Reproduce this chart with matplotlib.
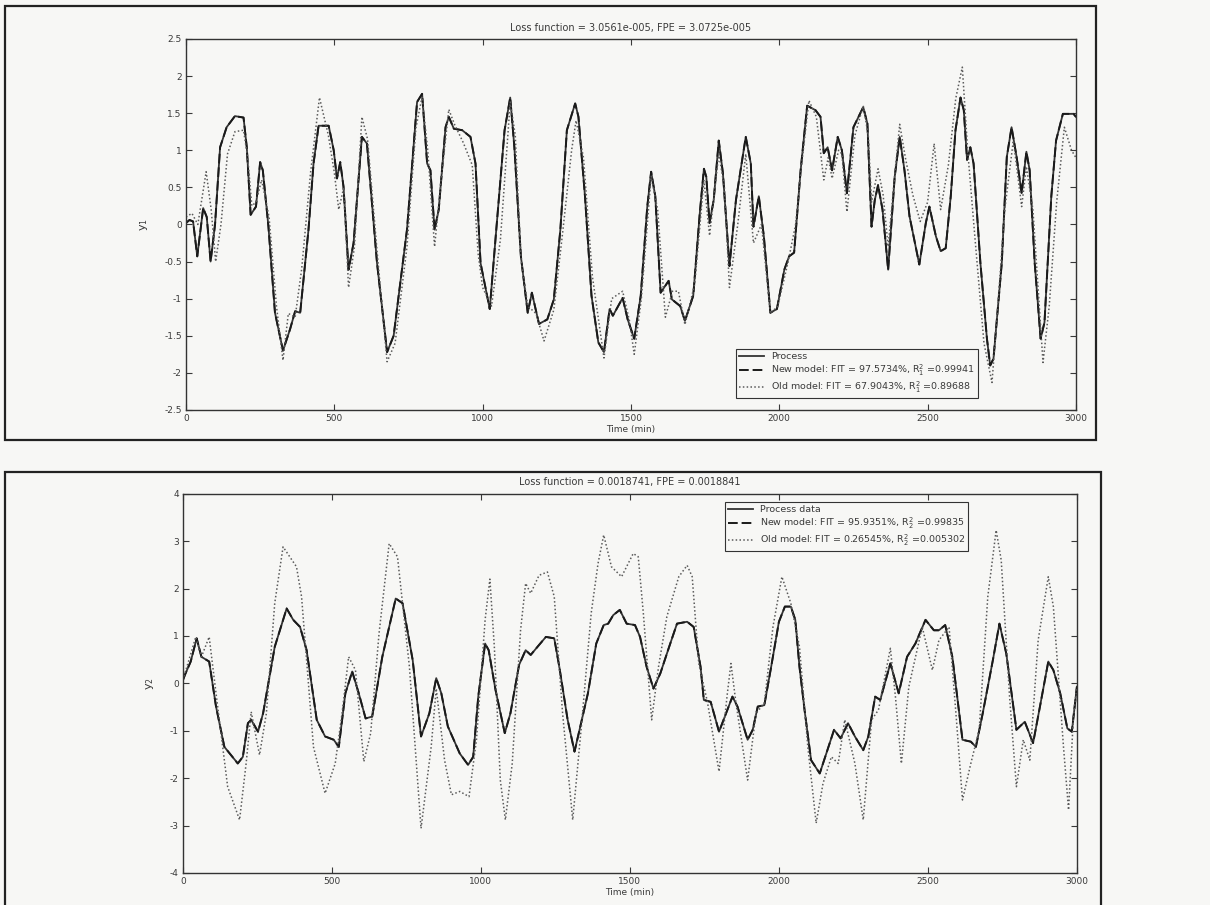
import numpy as np
import matplotlib
matplotlib.use("Agg")
import matplotlib.pyplot as plt
from matplotlib.patches import Rectangle

# ---- top panel (y1) ----
t1_proc = [0, 12, 24, 38, 58, 70, 83, 98, 115, 137, 165, 194, 205, 218, 236, 250, 259, 278,
           300, 327, 351, 368, 385, 413, 430, 447, 481, 498, 509, 520, 531, 548, 565, 593,
           610, 644, 678, 700, 745, 779, 796, 813, 824, 838, 852, 875, 886, 903, 931, 959,
           976, 993, 1013, 1024, 1046, 1074, 1093, 1107, 1129, 1152, 1166, 1190, 1218, 1240,
           1262, 1284, 1312, 1323, 1345, 1367, 1390, 1409, 1428, 1439, 1472, 1489, 1511,
           1533, 1555, 1568, 1582, 1600, 1627, 1638, 1666, 1682, 1710, 1732, 1746, 1754,
           1765, 1779, 1796, 1810, 1832, 1854, 1887, 1904, 1913, 1931, 1948, 1970, 1992,
           2017, 2033, 2050, 2072, 2094, 2122, 2139, 2150, 2163, 2178, 2197, 2211, 2228,
           2250, 2283, 2297, 2311, 2322, 2333, 2348, 2367, 2389, 2406, 2422, 2439, 2472,
           2494, 2506, 2528, 2544, 2561, 2578, 2594, 2611, 2622, 2633, 2644, 2655, 2678,
           2700, 2711, 2722, 2750, 2767, 2783, 2800, 2817, 2833, 2844, 2861, 2881, 2894,
           2917, 2933, 2956, 2992, 3000]
y1_proc = [0.02, 0.06, 0.04, -0.43, 0.22, 0.1, -0.5, 0.0, 1.04, 1.31, 1.46, 1.44, 1.04, 0.13,
           0.24, 0.84, 0.73, -0.03, -1.19, -1.70, -1.41, -1.17, -1.19, -0.07, 0.82, 1.33,
           1.33, 1.0, 0.62, 0.84, 0.51, -0.61, -0.25, 1.18, 1.09, -0.52, -1.72, -1.5, -0.07,
           1.65, 1.76, 0.82, 0.73, -0.07, 0.2, 1.31, 1.45, 1.29, 1.27, 1.18, 0.82, -0.52,
           -0.92, -1.14, -0.07, 1.27, 1.71, 1.04, -0.43, -1.19, -0.92, -1.34, -1.28, -1.01,
           -0.07, 1.27, 1.63, 1.45, 0.38, -0.96, -1.59, -1.72, -1.14, -1.23, -0.99, -1.28,
           -1.54, -0.96, 0.24, 0.71, 0.38, -0.92, -0.76, -1.01, -1.1, -1.3, -0.96, 0.15,
           0.75, 0.64, 0.02, 0.33, 1.13, 0.69, -0.56, 0.33, 1.18, 0.82, -0.03, 0.38, -0.16,
           -1.19, -1.14, -0.61, -0.43, -0.38, 0.73, 1.60, 1.54, 1.45, 0.96, 1.04, 0.73, 1.18,
           1.0, 0.42, 1.31, 1.58, 1.36, -0.03, 0.33, 0.53, 0.2, -0.61, 0.64, 1.18, 0.73, 0.11,
           -0.54, 0.02, 0.24, -0.16, -0.36, -0.32, 0.38, 1.27, 1.71, 1.54, 0.87, 1.04, 0.82,
           -0.52, -1.54, -1.90, -1.81, -0.52, 0.91, 1.31, 0.91, 0.42, 0.98, 0.73, -0.52,
           -1.54, -1.32, 0.38, 1.13, 1.49, 1.49, 1.45]
# new model lies on top of the process curve in the picture
t1_new = t1_proc
y1_new = y1_proc

t1_old = [0, 20, 40, 68, 85, 100, 118, 140, 165, 194, 208, 222, 236, 255, 280, 305, 327, 345,
          368, 390, 420, 450, 480, 500, 515, 532, 548, 568, 593, 612, 645, 678, 705, 745,
          775, 796, 815, 838, 860, 886, 905, 935, 965, 985, 1000, 1030, 1060, 1093, 1110,
          1129, 1152, 1180, 1207, 1240, 1270, 1300, 1315, 1340, 1370, 1409, 1435, 1472,
          1495, 1511, 1535, 1568, 1590, 1616, 1640, 1660, 1682, 1715, 1746, 1765, 1796,
          1815, 1832, 1860, 1887, 1913, 1940, 1970, 1995, 2030, 2055, 2075, 2100, 2125,
          2150, 2165, 2178, 2200, 2211, 2228, 2255, 2283, 2300, 2311, 2333, 2350, 2367,
          2390, 2406, 2425, 2450, 2475, 2500, 2522, 2544, 2570, 2595, 2617, 2635, 2660,
          2690, 2717, 2735, 2760, 2789, 2817, 2833, 2855, 2889, 2910, 2935, 2961, 2985, 3000]
y1_old = [0.1, 0.15, 0.0, 0.71, 0.2, -0.5, 0.0, 0.95, 1.25, 1.27, 0.9, 0.25, 0.3, 0.6, 0.1,
          -1.1, -1.83, -1.2, -1.25, -0.6, 0.7, 1.71, 1.2, 0.7, 0.2, 0.5, -0.85, -0.3, 1.45,
          1.15, -0.4, -1.85, -1.6, -0.3, 1.3, 1.72, 1.0, -0.3, 0.6, 1.55, 1.35, 1.1, 0.8,
          -0.4, -0.85, -1.1, -0.2, 1.65, 1.2, -0.45, -1.1, -1.2, -1.57, -1.15, -0.1, 1.0,
          1.4, 0.9, -0.7, -1.8, -1.0, -0.9, -1.3, -1.75, -1.0, 0.65, 0.2, -1.25, -0.9, -0.9,
          -1.35, -0.8, 0.6, -0.15, 0.95, 0.5, -0.85, 0.0, 0.95, -0.25, 0.0, -1.2, -1.1,
          -0.5, 0.0, 0.8, 1.67, 1.45, 0.6, 0.9, 0.62, 1.0, 0.95, 0.17, 1.2, 1.6, 1.2, 0.3,
          0.75, 0.4, -0.3, 0.7, 1.35, 0.9, 0.4, 0.04, 0.3, 1.09, 0.2, 0.8, 1.7, 2.12, 1.0,
          -0.2, -1.6, -2.13, -1.2, 0.2, 1.13, 0.24, 0.78, 0.2, -1.86, -1.1, 0.3, 1.31, 1.0,
          0.9]

# ---- bottom panel (y2) ----
t2_proc = [0, 8, 26, 46, 62, 88, 111, 139, 184, 201, 218, 229, 252, 269, 308, 348, 370, 393,
           415, 449, 477, 506, 523, 545, 568, 590, 613, 635, 669, 714, 737, 771, 799, 827,
           850, 867, 889, 929, 957, 974, 991, 1014, 1026, 1049, 1080, 1099, 1128, 1150,
           1167, 1195, 1218, 1246, 1263, 1291, 1314, 1336, 1359, 1387, 1412, 1427, 1444,
           1466, 1489, 1517, 1534, 1556, 1579, 1602, 1630, 1658, 1692, 1714, 1737, 1748,
           1771, 1799, 1827, 1844, 1861, 1895, 1912, 1929, 1951, 1974, 2000, 2020, 2040,
           2055, 2069, 2086, 2108, 2137, 2159, 2185, 2207, 2232, 2255, 2283, 2300, 2323,
           2340, 2374, 2402, 2430, 2458, 2492, 2520, 2537, 2558, 2582, 2616, 2644, 2661,
           2684, 2718, 2740, 2763, 2797, 2825, 2853, 2876, 2904, 2921, 2944, 2968, 2983, 3000]
y2_proc = [0.07, 0.2, 0.46, 0.95, 0.56, 0.46, -0.49, -1.34, -1.69, -1.55, -0.84, -0.77,
           -1.02, -0.63, 0.77, 1.58, 1.34, 1.19, 0.70, -0.77, -1.12, -1.19, -1.34, -0.21,
           0.25, -0.21, -0.74, -0.70, 0.56, 1.79, 1.69, 0.49, -1.12, -0.63, 0.11, -0.21,
           -0.91, -1.48, -1.72, -1.55, -0.28, 0.84, 0.7, -0.14, -1.05, -0.63, 0.39, 0.70,
           0.60, 0.81, 0.98, 0.95, 0.35, -0.77, -1.44, -0.84, -0.21, 0.84, 1.23, 1.26, 1.44,
           1.55, 1.26, 1.23, 0.98, 0.35, -0.11, 0.21, 0.74, 1.26, 1.30, 1.19, 0.35, -0.35,
           -0.39, -1.02, -0.56, -0.28, -0.49, -1.19, -0.98, -0.49, -0.46, 0.35, 1.3, 1.62,
           1.62, 1.34, 0.35, -0.56, -1.62, -1.90, -1.48, -0.98, -1.16, -0.84, -1.12, -1.41,
           -1.12, -0.28, -0.35, 0.42, -0.21, 0.56, 0.84, 1.34, 1.12, 1.12, 1.23, 0.56, -1.19,
           -1.23, -1.34, -0.63, 0.49, 1.26, 0.63, -0.98, -0.81, -1.26, -0.49, 0.46, 0.28,
           -0.21, -0.95, -1.02, -0.07]
t2_new = t2_proc
y2_new = y2_proc

t2_old = [0, 43, 62, 88, 111, 150, 190, 212, 229, 257, 280, 308, 336, 381, 398, 438, 477,
          511, 534, 556, 579, 607, 630, 658, 692, 720, 760, 799, 833, 850, 878, 901, 929,
          960, 985, 1014, 1030, 1045, 1065, 1082, 1105, 1133, 1150, 1167, 1195, 1223, 1246,
          1274, 1308, 1336, 1370, 1393, 1412, 1438, 1472, 1511, 1528, 1545, 1573, 1596,
          1624, 1664, 1692, 1709, 1731, 1760, 1799, 1827, 1839, 1856, 1895, 1923, 1951,
          1980, 2010, 2040, 2069, 2097, 2125, 2148, 2176, 2199, 2221, 2255, 2283, 2311,
          2334, 2374, 2391, 2411, 2436, 2481, 2515, 2537, 2571, 2594, 2616, 2644, 2672,
          2701, 2729, 2746, 2774, 2797, 2820, 2842, 2870, 2904, 2921, 2955, 2972, 2989, 3000]
y2_old = [0.07, 0.98, 0.56, 0.98, -0.21, -2.18, -2.88, -1.69, -0.60, -1.51, -0.63, 1.69,
          2.88, 2.46, 1.83, -1.34, -2.32, -1.69, -0.63, 0.56, 0.28, -1.65, -1.05, 1.05, 2.95,
          2.67, 0.35, -3.06, -1.34, -0.11, -1.62, -2.35, -2.28, -2.39, -1.19, 1.34, 2.2,
          0.77, -2.04, -2.88, -1.69, 1.12, 2.11, 1.90, 2.28, 2.35, 1.83, -0.63, -2.88, -0.98,
          1.48, 2.53, 3.13, 2.46, 2.25, 2.74, 2.67, 1.48, -0.77, 0.35, 1.41, 2.25, 2.49,
          2.25, 0.42, -0.39, -1.86, -0.21, 0.42, -0.42, -2.04, -0.63, -0.42, 1.19, 2.25,
          1.69, 0.77, -1.34, -2.95, -2.11, -1.55, -1.69, -0.77, -1.69, -2.88, -0.77, -0.56,
          0.74, -0.28, -1.69, -0.07, 1.19, 0.28, 0.91, 1.19, -0.63, -2.46, -1.69, -0.98,
          1.83, 3.23, 2.60, -0.28, -2.18, -1.19, -1.62, 0.91, 2.25, 1.62, -1.34, -2.67,
          -0.63, -0.07]

title1 = "Loss function = 3.0561e-005, FPE = 3.0725e-005"
title2 = "Loss function = 0.0018741, FPE = 0.0018841"
labels1 = ["Process",
           "New model: FIT = 97.5734%, R$_1^2$ =0.99941",
           "Old model: FIT = 67.9043%, R$_1^2$ =0.89688"]
labels2 = ["Process data",
           "New model: FIT = 95.9351%, R$_2^2$ =0.99835",
           "Old model: FIT = 0.26545%, R$_2^2$ =0.005302"]

bg = "#f7f7f5"
ink = "#3a3a3a"
plt.rcParams["font.family"] = "DejaVu Sans"

fig = plt.figure(figsize=(12.1, 9.05), dpi=100, facecolor=bg)

# scanned panel frames
fig.patches.append(Rectangle((0.004, 0.514), 0.902, 0.479, transform=fig.transFigure,
                             fill=False, lw=1.6, ec="#222"))
fig.patches.append(Rectangle((0.004, -0.01), 0.906, 0.489, transform=fig.transFigure,
                             fill=False, lw=1.6, ec="#222"))

ax1 = fig.add_axes([0.1537, 0.547, 0.7355, 0.41])
ax2 = fig.add_axes([0.1512, 0.0354, 0.7388, 0.419])


def draw(ax, tp, yp, tn, yn, to, yo, labels, title, ylim, yticks, ylabel, loc, anchor):
    ax.set_facecolor(bg)
    ax.plot(tp, yp, color="#333", lw=1.3, label=labels[0])
    ax.plot(tn, yn, color="#1a1a1a", lw=1.4, ls=(0, (5, 2)), label=labels[1])
    ax.plot(to, yo, color="#5a5a5a", lw=1.1, ls=(0, (1, 1.5)), label=labels[2])
    ax.set_xlim(0, 3000)
    ax.set_ylim(*ylim)
    ax.set_xticks(range(0, 3001, 500))
    ax.set_yticks(yticks)
    ax.set_yticklabels([f"{v:g}" for v in yticks])
    ax.tick_params(direction="in", top=True, right=True, labelsize=6.5, colors=ink,
                   length=4, pad=3)
    for s in ax.spines.values():
        s.set_color("#333")
        s.set_linewidth(1.0)
    ax.set_title(title, fontsize=7, color=ink, pad=6)
    ax.set_xlabel("Time (min)", fontsize=6.5, color=ink, labelpad=1)
    ax.set_ylabel(ylabel, fontsize=8, color=ink, rotation=90, labelpad=10)
    leg = ax.legend(loc=loc, bbox_to_anchor=anchor, fontsize=6.8, frameon=True,
                    fancybox=False, edgecolor="#333", facecolor=bg, framealpha=1,
                    handlelength=2.6, borderpad=0.3, labelspacing=0.2)
    leg.get_frame().set_linewidth(0.8)
    for txt in leg.get_texts():
        txt.set_color(ink)


draw(ax1, t1_proc, y1_proc, t1_new, y1_new, t1_old, y1_old, labels1, title1,
     (-2.5, 2.5), [-2.5, -2, -1.5, -1, -0.5, 0, 0.5, 1, 1.5, 2, 2.5], "y$_1$",
     "lower right", (0.895, 0.019))
draw(ax2, t2_proc, y2_proc, t2_new, y2_new, t2_old, y2_old, labels2, title2,
     (-4, 4), [-4, -3, -2, -1, 0, 1, 2, 3, 4], "y$_2$",
     "upper right", (0.884, 0.99))

fig.savefig("out.png", dpi=100, facecolor=bg)
